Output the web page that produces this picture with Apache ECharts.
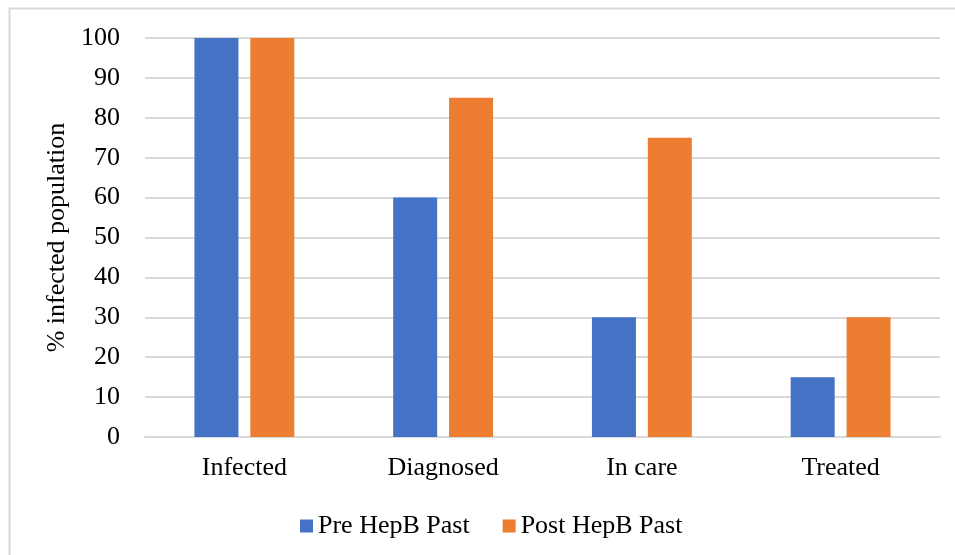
<!DOCTYPE html>
<html>
<head>
<meta charset="utf-8">
<script src="https://cdn.jsdelivr.net/npm/echarts@6/dist/echarts.min.js"></script>
<style>
html,body{margin:0;padding:0;background:#fff;}
#chart{width:955px;height:555px;}
</style>
</head>
<body>
<div id="chart"></div>
<script>
// Care cascade stages and the share of the infected population at each stage
const categories = ['Infected', 'Diagnosed', 'In care', 'Treated'];
const preHepBPast = [100, 60, 30, 15];
const postHepBPast = [100, 85, 75, 30];
const seriesNames = ['Pre HepB Past', 'Post HepB Past'];
const yAxisName = '% infected population';

const font = 'Liberation Serif, Times New Roman, serif';
const fs = 26;
const chart = echarts.init(document.getElementById('chart'));
chart.setOption({
  animation: false,
  textStyle: { fontFamily: font },
  graphic: [{
    type: 'rect',
    shape: { x: 9.5, y: 8.5, width: 960, height: 560 },
    style: { fill: 'none', stroke: '#d9d9d9', lineWidth: 2 },
    silent: true
  }],
  grid: { left: 145, right: 15, top: 38, bottom: 118 },
  legend: {
    left: 295, top: 508,
    itemWidth: 13, itemHeight: 13, itemGap: 33,
    icon: 'rect',
    textStyle: { fontFamily: font, fontSize: fs, color: '#000' },
    data: seriesNames
  },
  xAxis: {
    type: 'category',
    data: categories,
    axisLine: { lineStyle: { color: '#d9d9d9', width: 2 } },
    axisTick: { show: false },
    axisLabel: { fontFamily: font, fontSize: fs, color: '#000', margin: 18 }
  },
  yAxis: {
    type: 'value',
    min: 0, max: 100, interval: 10,
    name: yAxisName,
    nameLocation: 'middle',
    nameGap: 67,
    nameTextStyle: { fontFamily: font, fontSize: fs, color: '#000' },
    axisLine: { show: false },
    axisTick: { show: false },
    axisLabel: { fontFamily: font, fontSize: fs, color: '#000', margin: 25 },
    splitLine: { lineStyle: { color: '#d9d9d9', width: 2 } }
  },
  series: [
    {
      name: seriesNames[0], type: 'bar', data: preHepBPast,
      barWidth: 44, barGap: '27%',
      itemStyle: { color: '#4472C4' }
    },
    {
      name: seriesNames[1], type: 'bar', data: postHepBPast,
      barWidth: 44,
      itemStyle: { color: '#ED7D31' }
    }
  ]
});
</script>
</body>
</html>
